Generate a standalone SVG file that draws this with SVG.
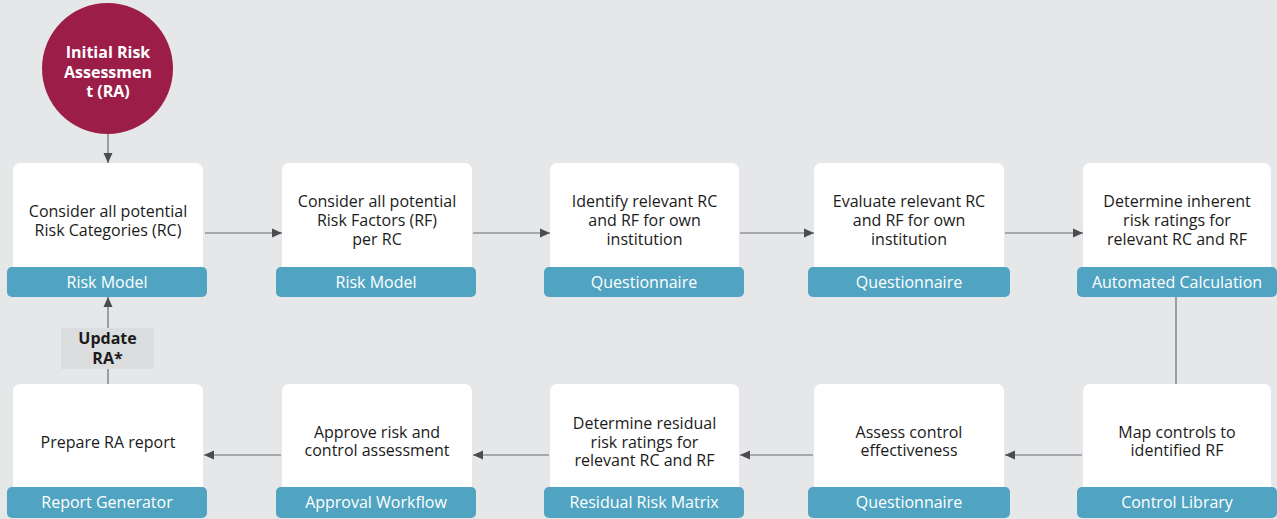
<svg xmlns="http://www.w3.org/2000/svg" width="1277" height="519" viewBox="0 0 1277 519">
  <defs>
    <marker id="ah" viewBox="0 0 10 10" refX="10" refY="5" markerWidth="10" markerHeight="10" markerUnits="userSpaceOnUse" orient="auto">
      <path d="M0,0.5 L10,5 L0,9.5 Z" fill="#4a4c50"/>
    </marker>
  </defs>
  <style>
    .card { fill: #ffffff; }
    .bar { fill: #50a4c1; }
    .t { font-family: "Open Sans", "Noto Sans", "DejaVu Sans", sans-serif; font-size: 16px; fill: #1b1b1b; text-anchor: middle; }
    .lbl { font-family: "Open Sans", "Noto Sans", "DejaVu Sans", sans-serif; font-size: 16px; fill: #ffffff; text-anchor: middle; }
    .b { font-family: "Open Sans", "Noto Sans", "DejaVu Sans", sans-serif; font-size: 16px; font-weight: bold; text-anchor: middle; }
    .c { stroke: #6b6d71; stroke-width: 1.2; fill: none; }
    .ca { marker-end: url(#ah); }
  </style>
  <rect x="0" y="0" width="1277" height="519" fill="#e6e7e9"/>

  <g id="connectors">
    <line class="c ca" x1="108" y1="131" x2="108" y2="163"/>
    <line class="c ca" x1="205" y1="233" x2="282" y2="233"/>
    <line class="c ca" x1="473" y1="233" x2="550" y2="233"/>
    <line class="c ca" x1="740" y1="233" x2="814" y2="233"/>
    <line class="c ca" x1="1005" y1="233" x2="1083" y2="233"/>
    <line class="c" x1="1176" y1="297" x2="1176" y2="384" stroke="#9a9b9e"/>
    <line class="c ca" x1="1082" y1="455" x2="1005" y2="455"/>
    <line class="c ca" x1="813" y1="455" x2="740" y2="455"/>
    <line class="c ca" x1="549" y1="455" x2="473" y2="455"/>
    <line class="c ca" x1="281" y1="455" x2="204" y2="455"/>
    <line class="c ca" x1="108" y1="384" x2="108" y2="297"/>
  </g>

  <g id="start">
    <circle cx="107.5" cy="68.5" r="65.5" fill="#9c1d48"/>
    <text class="b" fill="#ffffff" x="108" y="58">Initial Risk</text>
    <text class="b" fill="#ffffff" x="108" y="77.5">Assessmen</text>
    <text class="b" fill="#ffffff" x="108" y="97">t (RA)</text>
  </g>

  <g id="update-label">
    <rect x="61" y="328" width="93" height="41" fill="#dcdddf"/>
    <text class="b" fill="#1b1b1b" x="107.5" y="344">Update</text>
    <text class="b" fill="#1b1b1b" x="107.5" y="364">RA*</text>
  </g>

  <g id="n1">
    <rect class="card" x="13" y="163" width="190" height="124" rx="7"/>
    <text class="t" x="108" y="217">Consider all potential</text>
    <text class="t" x="108" y="236">Risk Categories (RC)</text>
    <rect class="bar" x="7" y="267" width="200" height="30" rx="5"/>
    <text class="lbl" x="107" y="287.5">Risk Model</text>
  </g>

  <g id="n2">
    <rect class="card" x="282" y="163" width="190" height="124" rx="7"/>
    <text class="t" x="377" y="207">Consider all potential</text>
    <text class="t" x="377" y="226">Risk Factors (RF)</text>
    <text class="t" x="377" y="245">per RC</text>
    <rect class="bar" x="276" y="267" width="200" height="30" rx="5"/>
    <text class="lbl" x="376" y="287.5">Risk Model</text>
  </g>

  <g id="n3">
    <rect class="card" x="550" y="163" width="189" height="124" rx="7"/>
    <text class="t" x="644.5" y="207">Identify relevant RC</text>
    <text class="t" x="644.5" y="226">and RF for own</text>
    <text class="t" x="644.5" y="245">institution</text>
    <rect class="bar" x="544" y="267" width="200" height="30" rx="5"/>
    <text class="lbl" x="644" y="287.5">Questionnaire</text>
  </g>

  <g id="n4">
    <rect class="card" x="814" y="163" width="190" height="124" rx="7"/>
    <text class="t" x="909" y="207">Evaluate relevant RC</text>
    <text class="t" x="909" y="226">and RF for own</text>
    <text class="t" x="909" y="245">institution</text>
    <rect class="bar" x="808" y="267" width="202" height="30" rx="5"/>
    <text class="lbl" x="909" y="287.5">Questionnaire</text>
  </g>

  <g id="n5">
    <rect class="card" x="1083" y="163" width="188" height="124" rx="7"/>
    <text class="t" x="1177" y="207">Determine inherent</text>
    <text class="t" x="1177" y="226">risk ratings for</text>
    <text class="t" x="1177" y="245">relevant RC and RF</text>
    <rect class="bar" x="1077" y="267" width="200" height="30" rx="5"/>
    <text class="lbl" x="1177" y="287.5">Automated Calculation</text>
  </g>

  <g id="n6">
    <rect class="card" x="1083" y="384" width="188" height="124" rx="7"/>
    <text class="t" x="1177" y="438">Map controls to</text>
    <text class="t" x="1177" y="456">identified RF</text>
    <rect class="bar" x="1077" y="487" width="200" height="31" rx="5"/>
    <text class="lbl" x="1177" y="508">Control Library</text>
  </g>

  <g id="n7">
    <rect class="card" x="814" y="384" width="190" height="124" rx="7"/>
    <text class="t" x="909" y="438">Assess control</text>
    <text class="t" x="909" y="456">effectiveness</text>
    <rect class="bar" x="808" y="487" width="202" height="31" rx="5"/>
    <text class="lbl" x="909" y="508">Questionnaire</text>
  </g>

  <g id="n8">
    <rect class="card" x="550" y="384" width="189" height="124" rx="7"/>
    <text class="t" x="644.5" y="429">Determine residual</text>
    <text class="t" x="644.5" y="447.5">risk ratings for</text>
    <text class="t" x="644.5" y="466">relevant RC and RF</text>
    <rect class="bar" x="544" y="487" width="200" height="31" rx="5"/>
    <text class="lbl" x="644" y="508">Residual Risk Matrix</text>
  </g>

  <g id="n9">
    <rect class="card" x="282" y="384" width="190" height="124" rx="7"/>
    <text class="t" x="377" y="438">Approve risk and</text>
    <text class="t" x="377" y="456">control assessment</text>
    <rect class="bar" x="276" y="487" width="200" height="31" rx="5"/>
    <text class="lbl" x="376" y="508">Approval Workflow</text>
  </g>

  <g id="n10">
    <rect class="card" x="13" y="384" width="190" height="124" rx="7"/>
    <text class="t" x="108" y="448">Prepare RA report</text>
    <rect class="bar" x="7" y="487" width="200" height="31" rx="5"/>
    <text class="lbl" x="107" y="508">Report Generator</text>
  </g>
</svg>
